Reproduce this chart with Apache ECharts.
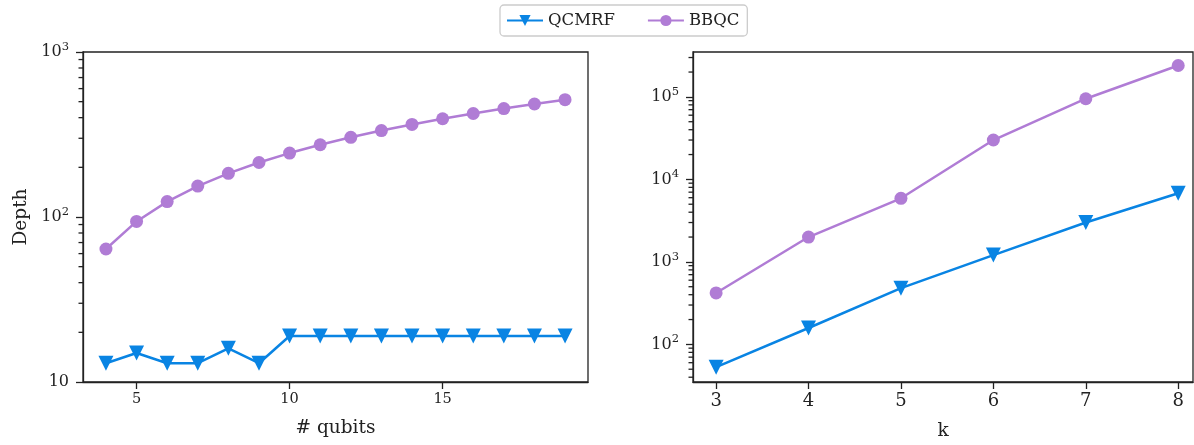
<!DOCTYPE html>
<html>
<head>
<meta charset="utf-8">
<script src="https://cdn.jsdelivr.net/npm/echarts@6/dist/echarts.min.js"></script>
<style>html,body{margin:0;padding:0;background:#fff;}#c{width:1194px;height:445px;}</style>
</head>
<body>
<div id="c"></div>
<script>
// ---- data ----
const leftQubits = [4,5,6,7,8,9,10,11,12,13,14,15,16,17,18,19];
const leftQCMRF  = [13,15,13,13,16,13,19,19,19,19,19,19,19,19,19,19];
const leftBBQC   = [64,94,124,154,184,214,244,274,304,334,364,394,424,454,484,514];
const rightK     = [3,4,5,6,7,8];
const rightQCMRF = [53,158,480,1210,3000,6800];
const rightBBQC  = [420,2000,5900,30000,95000,240000];
const leftXTicks = [5,10,15];
const rightXTicks = [3,4,5,6,7,8];
const leftYTicks = [10,100,1000];
const rightYTicks = [100,1000,10000,100000];

const FONT = 'DejaVu Serif';
const BLUE = '#0984E3';
const PURPLE = '#B07CD5';
const AX = '#222';

// log minor tick values (2..9 x 10^n) inside an axis range
function minorTicks(lo, hi) {
  const out = [];
  for (let d = Math.floor(Math.log10(lo)); d <= Math.ceil(Math.log10(hi)); d++) {
    for (let m = 2; m <= 9; m++) {
      const v = m * Math.pow(10, d);
      if (v >= lo && v <= hi) out.push(v);
    }
  }
  return out;
}
function pow10Label(v) {
  const e = Math.round(Math.log10(v));
  if (e === 1) return '10';
  return '10{sup|' + e + '}';
}
const pairs = (xs, ys) => xs.map((x, i) => [x, ys[i]]);

const labelRich = { sup: { fontSize: 11.5, fontFamily: FONT, color: AX, padding: [0, 0, 10, 0] } };

const gridDefs = [
  { left: 83, top: 52, width: 505, height: 330 },
  { left: 693, top: 52, width: 500, height: 330 }
];
const grids = gridDefs.map(g => Object.assign({
  show: true, borderColor: AX, borderWidth: 1.3, backgroundColor: 'transparent',
  containLabel: false, outerBoundsMode: 'none'
}, g));
const yRanges = [[10, 1000], [35, 350000]];
const xRanges = [[3.25, 19.75], [2.75, 8.16]];

function xAxis(gi, rng, ticks, name, gap, fs) {
  return {
    type: 'value', gridIndex: gi, min: rng[0], max: rng[1],
    splitLine: { show: false },
    axisLine: { show: true, onZero: false, lineStyle: { color: AX, width: 1.3 } },
    axisTick: { show: true, length: 7, customValues: ticks, lineStyle: { color: AX, width: 1.3 } },
    axisLabel: { customValues: ticks, fontFamily: FONT, fontSize: fs, color: AX, margin: 10 },
    name: name, nameLocation: 'middle', nameGap: gap,
    nameTextStyle: { fontFamily: FONT, fontSize: 18.5, color: AX }
  };
}
function yAxisMajor(gi, rng, ticks, name) {
  return {
    type: 'log', logBase: 10, gridIndex: gi, min: rng[0], max: rng[1], position: 'left',
    splitLine: { show: false },
    axisLine: { show: true, onZero: false, lineStyle: { color: AX, width: 1.3 } },
    axisTick: { show: true, length: 7, customValues: ticks, lineStyle: { color: AX, width: 1.3 } },
    axisLabel: { customValues: ticks, fontFamily: FONT, fontSize: 16, color: AX, margin: 14,
                 formatter: pow10Label, rich: labelRich },
    name: name || '', nameLocation: 'middle', nameGap: 52, nameRotate: 90,
    nameTextStyle: { fontFamily: FONT, fontSize: 18.5, color: AX }
  };
}
// minor ticks placed through the axis scale (api.coord) at the left spine
function minorTickSeries(gi) {
  const xmin = xRanges[gi][0];
  return {
    type: 'custom', xAxisIndex: gi, yAxisIndex: gi, silent: true, clip: false,
    data: minorTicks(yRanges[gi][0], yRanges[gi][1]).map(v => [xmin, v]),
    renderItem: function (params, api) {
      const p = api.coord([api.value(0), api.value(1)]);
      return { type: 'rect', shape: { x: p[0] - 4.5, y: p[1] - 0.65, width: 4.5, height: 1.3 },
               style: { fill: AX } };
    },
    z: 5, animation: false
  };
}

function lineSeries(name, xi, yi, data, color, sym) {
  return {
    name: name, type: 'line', xAxisIndex: xi, yAxisIndex: yi, data: data,
    symbol: sym === 'tri' ? 'triangle' : 'circle',
    symbolRotate: sym === 'tri' ? 180 : 0,
    symbolSize: sym === 'tri' ? 15 : 13,
    showSymbol: true,
    lineStyle: { color: color, width: 2.5 },
    itemStyle: { color: color },
    emphasis: { disabled: true },
    animation: false, z: sym === 'tri' ? 3 : 2
  };
}

const chart = echarts.init(document.getElementById('c'), null, { renderer: 'canvas' });
chart.setOption({
  animation: false,
  backgroundColor: '#fff',
  grid: grids,
  legend: {
    left: 500, top: 5,
    data: ['QCMRF', 'BBQC'],
    itemWidth: 36, itemHeight: 14, itemGap: 32,
    padding: [7, 8, 7, 6],
    borderColor: '#cccccc', borderWidth: 1.3, borderRadius: 4,
    textStyle: { fontFamily: FONT, fontSize: 16.5, color: AX }
  },
  xAxis: [
    xAxis(0, xRanges[0], leftXTicks, '# qubits', 37, 14.5),
    xAxis(1, xRanges[1], rightXTicks, 'k', 40, 18)
  ],
  yAxis: [
    yAxisMajor(0, yRanges[0], leftYTicks, 'Depth'),
    yAxisMajor(1, yRanges[1], rightYTicks, '')
  ],
  series: [
    minorTickSeries(0),
    minorTickSeries(1),
    lineSeries('QCMRF', 0, 0, pairs(leftQubits, leftQCMRF), BLUE, 'tri'),
    lineSeries('BBQC', 0, 0, pairs(leftQubits, leftBBQC), PURPLE, 'circ'),
    lineSeries('QCMRF', 1, 1, pairs(rightK, rightQCMRF), BLUE, 'tri'),
    lineSeries('BBQC', 1, 1, pairs(rightK, rightBBQC), PURPLE, 'circ')
  ]
});
</script>
</body>
</html>
